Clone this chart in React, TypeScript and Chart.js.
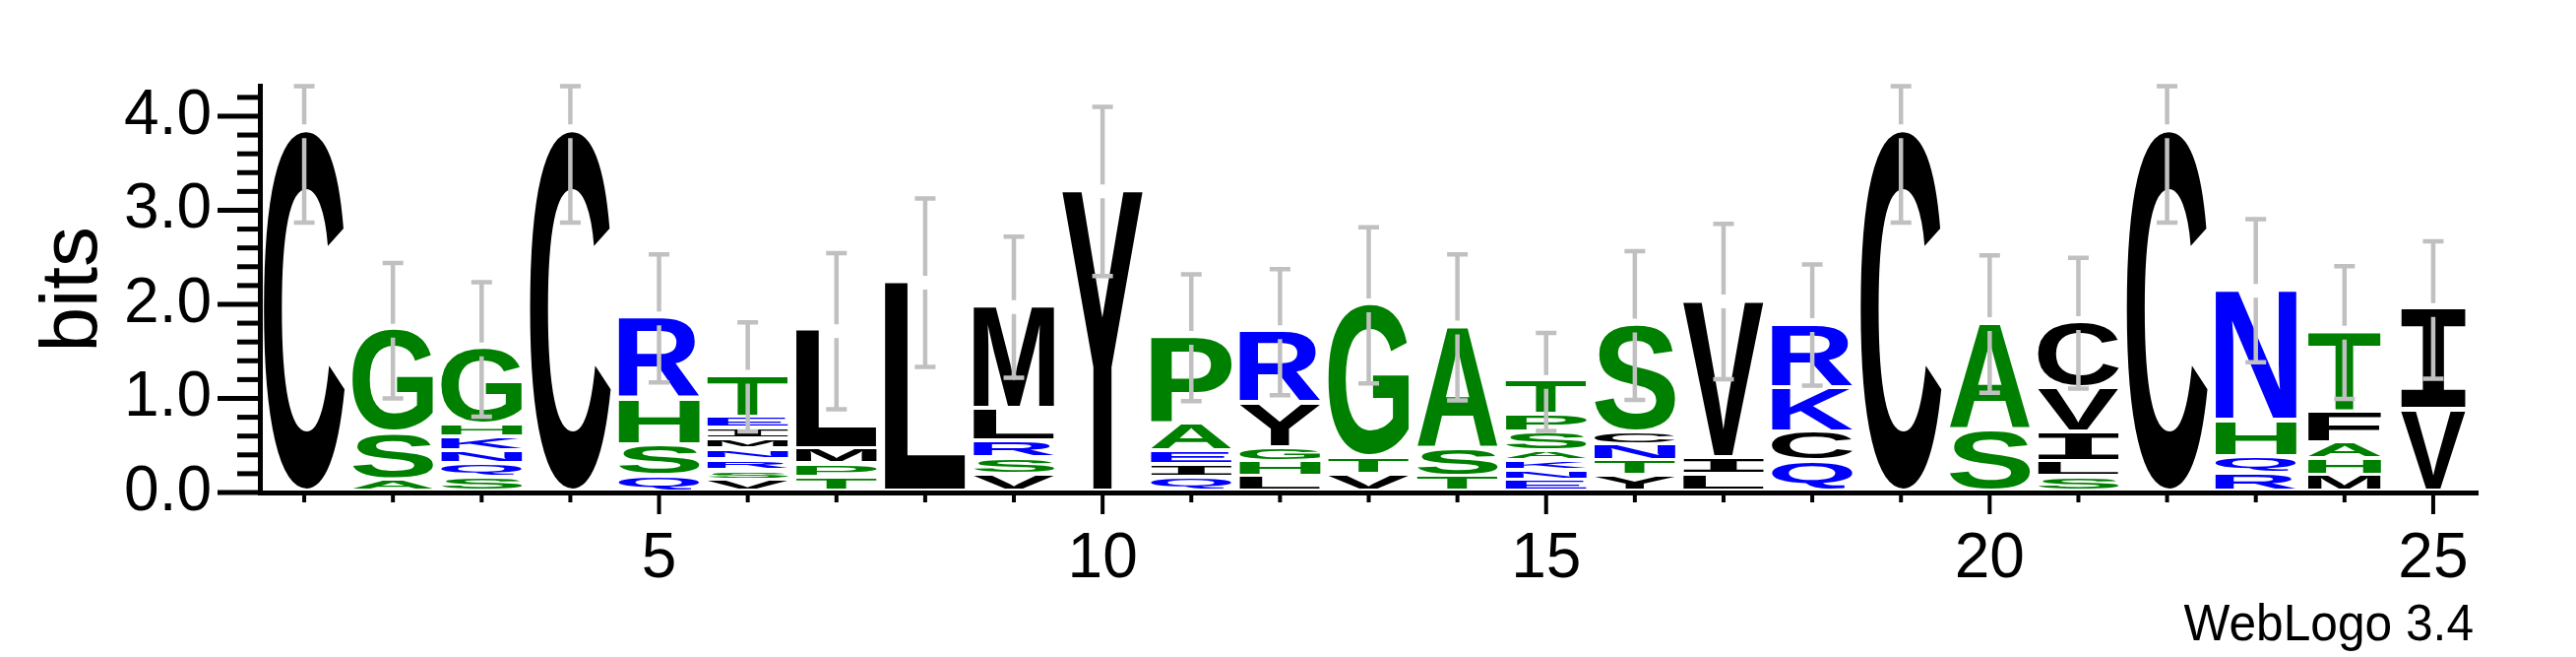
import React, { useEffect, useRef } from 'react';
import { Chart, registerables } from 'chart.js';

Chart.register(...registerables);

// ---------- data ----------
const positions = ['1', '2', '3', '4', '5', '6', '7', '8', '9', '10', '11', '12', '13', '14', '15', '16', '17', '18', '19', '20', '21', '22', '23', '24', '25'];
const labeledPositions = ['5', '10', '15', '20', '25'];

// letters of each stack, bottom to top
const stackLetters = [
  'C', 'ASG', 'SQNKHG', 'C', 'QSHR', 'VSRNMIET', 'TPML', 'L', 'VSRLM', 'Y',
  'QIEAP', 'LHGYR', 'VTG', 'TSA', 'ENKASPT', 'YTNCS', 'LIV', 'QCKR', 'C', 'SA',
  'SLIVC', 'C', 'RQHN', 'MHAFT', 'VI',
];

// letter heights in bits, bottom to top
const stackHeights: number[][] = [
  [3.84],
  [0.12, 0.5, 1.1],
  [0.15, 0.14, 0.14, 0.15, 0.13, 0.81],
  [3.84],
  [0.16, 0.33, 0.49, 0.87],
  [0.115, 0.1, 0.115, 0.115, 0.115, 0.115, 0.115, 0.44],
  [0.15, 0.14, 0.155, 1.27],
  [2.23],
  [0.18, 0.17, 0.18, 0.35, 1.09],
  [3.2],
  [0.145, 0.135, 0.145, 0.29, 0.93],
  [0.155, 0.155, 0.155, 0.47, 0.77],
  [0.18, 0.18, 1.63],
  [0.155, 0.3, 1.3],
  [0.115, 0.105, 0.105, 0.1, 0.2, 0.19, 0.36],
  [0.165, 0.155, 0.17, 0.135, 1.15],
  [0.18, 0.18, 1.67],
  [0.32, 0.31, 0.47, 0.68],
  [3.84],
  [0.65, 1.14],
  [0.155, 0.155, 0.32, 0.47, 0.7],
  [3.84],
  [0.19, 0.18, 0.385, 1.39],
  [0.17, 0.17, 0.17, 0.335, 0.855],
  [0.865, 1.075],
];

// error bar half-widths (bits)
const errorHalf = [
  0.97, 0.72, 0.715, 0.97, 0.68, 0.58, 0.83, 0.895, 0.75, 0.9,
  0.675, 0.67, 0.83, 0.775, 0.52, 0.79, 0.825, 0.645, 0.97, 0.73,
  0.695, 0.97, 0.76, 0.705, 0.73,
];

const yMax = 4.32;

// ---------- styles ----------
const stackWidthScale = [
  1, 1, 1, 1, 1, 1, 1, 1, 1, 1, 1, 1, 1, 1, 1, 1, 1, 1, 1, 1, 1, 1, 1, 0.9, 0.8,
];
const BLUE = '#0000ff';
const GREEN = '#008000';
const BLACK = '#000000';
const letterColor = (l: string) =>
  'RKDENQ'.includes(l) ? BLUE : 'SGHTAP'.includes(l) ? GREEN : BLACK;
const FONT = '"Liberation Sans", Arial, Helvetica, sans-serif';

function drawGlyph(ctx: CanvasRenderingContext2D, letter: string, bx: number, by: number, bw: number, bh: number) {
  if (bw <= 0 || bh <= 0) return;
  ctx.save();
  ctx.font = letter === 'I' ? 'bold 200px "DejaVu Sans Mono", monospace' : `bold 200px ${FONT}`;
  ctx.textAlign = 'left';
  ctx.textBaseline = 'alphabetic';
  const m = ctx.measureText(letter);
  const gw = m.actualBoundingBoxLeft + m.actualBoundingBoxRight;
  const gh = m.actualBoundingBoxAscent + m.actualBoundingBoxDescent;
  ctx.translate(bx, by);
  ctx.scale(bw / gw, bh / gh);
  ctx.fillStyle = letterColor(letter);
  ctx.fillText(letter, m.actualBoundingBoxLeft, m.actualBoundingBoxAscent);
  ctx.restore();
}

const logoPlugin = {
  id: 'logoPlugin',
  afterDatasetsDraw(chart: any) {
    const ctx: CanvasRenderingContext2D = chart.ctx;
    const yScale = chart.scales.y;
    const xScale = chart.scales.x;
    // letters
    chart.data.datasets.forEach((_ds: any, d: number) => {
      const meta = chart.getDatasetMeta(d);
      meta.data.forEach((el: any, i: number) => {
        const letter = stackLetters[i][d];
        if (!letter) return;
        const { x, y, base, width } = el.getProps(['x', 'y', 'base', 'width'], true);
        const top = Math.min(y, base);
        const bottom = Math.max(y, base);
        const slot = bottom - top;
        const gap = slot > 10 ? 4 : slot * 0.4;
        const w = width * stackWidthScale[i];
        drawGlyph(ctx, letter, x - w / 2, top, w, slot - gap);
      });
    });
    // error bars
    ctx.save();
    ctx.strokeStyle = '#c0c0c0';
    ctx.lineWidth = 4.5;
    ctx.lineCap = 'butt';
    positions.forEach((_p, i) => {
      const total = stackHeights[i].reduce((a, b) => a + b, 0);
      const x = xScale.getPixelForValue(i);
      const yT = yScale.getPixelForValue(total);
      const yU = yScale.getPixelForValue(Math.min(total + errorHalf[i], yMax));
      const yL = yScale.getPixelForValue(total - errorHalf[i]);
      ctx.beginPath();
      ctx.moveTo(x, yU);
      ctx.lineTo(x, yT - 7);
      ctx.moveTo(x, yT + 7);
      ctx.lineTo(x, yL);
      ctx.moveTo(x - 10.5, yU);
      ctx.lineTo(x + 10.5, yU);
      ctx.moveTo(x - 10.5, yL);
      ctx.lineTo(x + 10.5, yL);
      ctx.stroke();
    });
    ctx.restore();
  },
  afterDraw(chart: any) {
    const ctx: CanvasRenderingContext2D = chart.ctx;
    const yScale = chart.scales.y;
    const xScale = chart.scales.x;
    const area = chart.chartArea;
    ctx.save();
    ctx.fillStyle = BLACK;
    // y ticks every 0.2 bits
    for (let k = 0; k <= 21; k++) {
      const py = yScale.getPixelForValue(k * 0.2);
      const len = k % 5 === 0 ? 43 : 23;
      ctx.fillRect(area.left - len, py - 2.5, len, 5);
    }
    // x ticks at each position
    positions.forEach((p, i) => {
      const px = xScale.getPixelForValue(i);
      const len = labeledPositions.includes(p) ? 22 : 10;
      ctx.fillRect(px - 2, area.bottom, 4, len);
    });
    // credit text
    ctx.font = `52px ${FONT}`;
    ctx.textAlign = 'right';
    ctx.textBaseline = 'alphabetic';
    ctx.translate(area.right - 4, 650);
    ctx.scale(0.955, 1);
    ctx.fillText('WebLogo 3.4', 0, 0);
    ctx.restore();
  },
};

export default function App() {
  const ref = useRef<HTMLCanvasElement | null>(null);
  useEffect(() => {
    if (!ref.current) return;
    const levels = Math.max(...stackLetters.map((s) => s.length));
    const datasets = [];
    for (let k = 0; k < levels; k++) {
      datasets.push({
        label: `level ${k}`,
        data: stackHeights.map((h) => h[k] ?? 0),
        backgroundColor: 'rgba(0,0,0,0)',
        borderWidth: 0,
        stack: 'logo',
        categoryPercentage: 1,
        barPercentage: 0.91,
      });
    }
    const chart = new Chart(ref.current, {
      type: 'bar',
      data: { labels: positions, datasets },
      options: {
        animation: false,
        responsive: false,
        devicePixelRatio: 1,
        layout: { padding: { top: 50, right: 100, bottom: 0, left: 0 } },
        plugins: {
          legend: { display: false },
          tooltip: { enabled: false },
          title: { display: false },
        },
        scales: {
          x: {
            type: 'category',
            stacked: true,
            offset: true,
            grid: { display: false, drawTicks: false },
            border: { display: true, width: 5, color: BLACK },
            ticks: {
              autoSkip: false,
              maxRotation: 0,
              minRotation: 0,
              padding: 30,
              color: BLACK,
              font: { family: FONT, size: 64 },
              callback: (_v: any, idx: number) =>
                labeledPositions.includes(positions[idx]) ? positions[idx] : '',
            },
            afterFit: (scale: any) => {
              scale.height = 167;
            },
          },
          y: {
            type: 'linear',
            stacked: true,
            min: 0,
            max: yMax,
            grid: { display: false, drawTicks: false },
            border: { display: true, width: 5, color: BLACK },
            ticks: {
              stepSize: 1,
              includeBounds: false,
              padding: 49,
              color: BLACK,
              font: { family: FONT, size: 64 },
              callback: (v: any) => Number(v).toFixed(1),
            },
            title: {
              display: true,
              text: 'bits',
              color: BLACK,
              font: { family: FONT, size: 82 },
              padding: { top: 26, bottom: 0 },
            },
            afterFit: (scale: any) => {
              scale.width = 264;
            },
          },
        },
      } as any,
      plugins: [logoPlugin],
    });
    return () => chart.destroy();
  }, []);
  return (
    <div style={{ position: 'fixed', left: 0, top: 0, width: 2617, height: 667, background: '#fff' }}>
      <canvas ref={ref} width={2617} height={667} style={{ display: 'block', width: 2617, height: 667 }} />
    </div>
  );
}
